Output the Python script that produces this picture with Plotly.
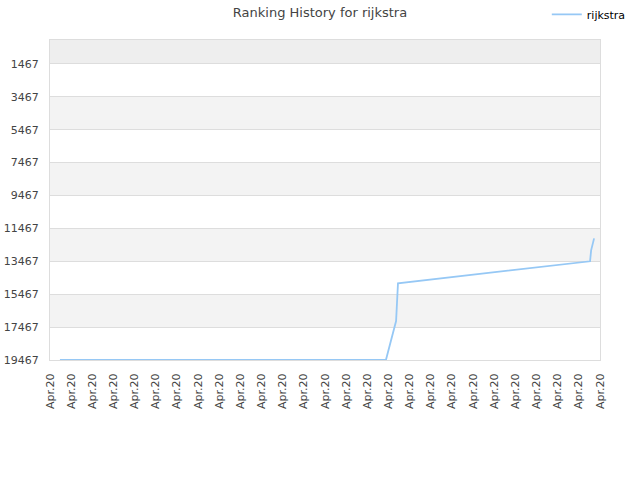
import plotly.graph_objects as go

# Data
tick_labels = ["Apr.20"] * 27
tick_pos = list(range(27))
x_pos = [0.47, 15.88, 16.36, 16.38, 16.45, 25.53, 25.58, 25.72]
ranks = [19467, 19467, 17100, 16350, 14800, 13467, 12800, 12073]
y_ticks = [1467, 3467, 5467, 7467, 9467, 11467, 13467, 15467, 17467, 19467]
y_top = 12

fig = go.Figure()
fig.add_trace(go.Scatter(
    x=x_pos, y=ranks, mode="lines", name="rijkstra",
    line=dict(color="#96c8f5", width=1.8),
))

# alternating background bands
shapes = []
bounds = [y_top] + y_ticks
for i in range(len(bounds) - 1):
    if i % 2 == 0:
        shapes.append(dict(type="rect", xref="paper", yref="y", x0=0, x1=1,
                           y0=bounds[i], y1=bounds[i + 1],
                           fillcolor="#eeeeee" if i == 0 else "#f3f3f3",
                           line=dict(width=0), layer="below"))

fig.update_layout(
    width=640, height=480,
    margin=dict(l=50, r=40, t=40, b=120, autoexpand=False),
    paper_bgcolor="white", plot_bgcolor="white",
    font=dict(family="DejaVu Sans", size=11, color="#444"),
    title=dict(text="Ranking History for rijkstra", x=0.5, xanchor="center",
               y=0.975, yanchor="middle", font=dict(size=13, color="#444")),
    showlegend=True,
    legend=dict(x=1.056, xanchor="right", y=1.08, yanchor="middle",
                itemwidth=30,
                font=dict(size=11, color="black"), bgcolor="rgba(0,0,0,0)"),
    shapes=shapes,
    xaxis=dict(range=[0, 26], tickmode="array", tickvals=tick_pos, ticktext=tick_labels,
               tickangle=-90, showgrid=False, zeroline=False,
               showline=True, linecolor="#dddddd", mirror=True,
               ticks="", ticklabelstandoff=8, tickfont=dict(size=11, color="#444")),
    yaxis=dict(range=[19467, y_top], tickmode="array", tickvals=y_ticks,
               ticktext=[str(v) for v in y_ticks],
               showgrid=True, gridcolor="#dddddd", zeroline=False,
               showline=True, linecolor="#dddddd", mirror=True,
               ticks="", ticklabelstandoff=8, tickfont=dict(size=11, color="#444")),
)

fig.write_html("out.html", config={"displayModeBar": False},
               post_script="document.body.style.margin='0';document.body.style.padding='0';")
